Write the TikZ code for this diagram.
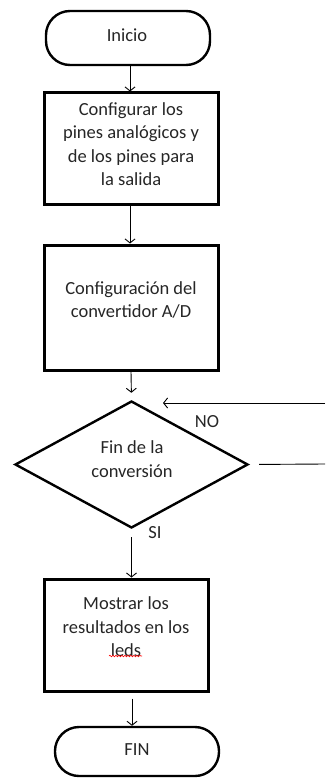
\documentclass[tikz,border=0pt]{standalone}
\usepackage{fontspec}
\setmainfont{Carlito}
\usetikzlibrary{shapes.geometric,arrows.meta,decorations.pathmorphing}
\tikzset{
  term/.style={draw,line width=2.4pt,rounded corners=24pt,inner sep=0pt},
  procbox/.style={draw,line width=3pt,inner sep=0pt},
  decis/.style={draw,diamond,line width=2.4pt,inner sep=0pt,minimum width=233pt,minimum height=127pt,aspect=1.835},
  txt/.style={font=\fontsize{18.5}{23.5}\selectfont,align=center,inner sep=0pt,text=black!85},
  arr/.style={line width=0.9pt,-{Straight Barb[length=4pt,width=10pt,line width=0.9pt]}},
  plain/.style={line width=0.9pt}
}
\begin{document}
\begin{tikzpicture}[x=1pt,y=-1pt]
\useasboundingbox (0,0) rectangle (325,778);
% shapes
\node[term,minimum width=164pt,minimum height=54pt] (ini) at (128,38) {};
\node[procbox,minimum width=174pt,minimum height=111pt] (b1) at (131,148.5) {};
\node[procbox,minimum width=174pt,minimum height=125pt] (b2) at (131,307.5) {};
\node[decis] (dec) at (131.5,464.5) {};
\node[procbox,minimum width=164pt,minimum height=112pt] (b3) at (126,635) {};
\node[term,minimum width=164pt,minimum height=49pt] (fin) at (137,751.5) {};
% texts
\node[txt] (tini) at (127,35) {Inicio};
\node[txt] (tb1) at (131,144) {Configurar los\\pines analógicos y\\de los pines para\\la salida};
\node[txt] (tb2) at (131,300) {Configuración del\\convertidor A/D};
\node[txt] (tdec) at (132,459) {Fin de la\\conversión};
\node[txt] (tb3) at (126,627) {Mostrar los\\resultados en los\\leds};
\node[txt] (tfin) at (137,750) {FIN};
\node[txt] (tno) at (207,422) {NO};
\node[txt] (tsi) at (155,533) {SI};
% spell-check underline
\coordinate (wa) at (109,656);
\coordinate (wb) at (142,656);
\draw[red,line width=0.6pt,decorate,decoration={snake,segment length=3pt,amplitude=0.8pt}] (wa) -- (wb);
% connectors
\draw[arr] (ini.south -| 130,0) -- (b1.north -| 130,0);
\draw[arr] (b1.south -| 130,0) -- (b2.north -| 130,0);
\draw[arr,shorten >=7pt] (b2.south -| 131,0) -- (dec.north);
\draw[arr,shorten <=8pt] (dec.south) -- (b3.north -| dec.south);
\draw[arr,shorten <=6pt] (b3.south -| 132,0) -- (fin.north -| 132,0);
\coordinate (nofrom) at (325,403);
\coordinate (noto) at (163,403);
\draw[arr] (nofrom) -- (noto);
\coordinate (rend) at (325,464);
\draw[plain,shorten <=10pt] (dec.east) -- (rend);
\end{tikzpicture}
\end{document}
